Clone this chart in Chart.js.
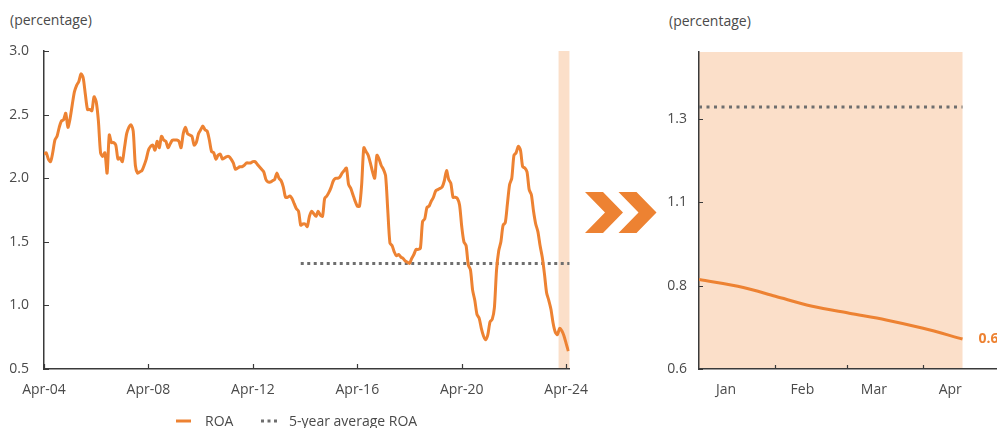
<!DOCTYPE html>
<html>
<head>
<meta charset="utf-8">
<script src="https://cdn.jsdelivr.net/npm/chart.js@4.4.1/dist/chart.umd.min.js"></script>
<style>
  html, body { margin: 0; padding: 0; background: #fff; }
  body { width: 997px; height: 428px; overflow: hidden; position: relative;
         font-family: "Open Sans", sans-serif; color: #4A4A4A; }
  .panel { position: absolute; top: 0; height: 428px; }
  #leftPanel { left: 0; width: 601px; }
  #rightPanel { left: 660px; width: 337px; }
  .unit { position: absolute; font-size: 14px; line-height: 16px; white-space: nowrap; }
  .legend { position: absolute; top: 411px; left: 0; height: 20px; font-size: 14px; line-height: 19px; }
  .legend .item { position: absolute; top: 0; white-space: nowrap; }
  .arrows { position: absolute; left: 580px; top: 186px; }
</style>
</head>
<body>

<div class="unit" style="left:10px; top:12px;">(percentage)</div>
<div class="unit" style="left:669px; top:13px;">(percentage)</div>

<div id="leftPanel" class="panel"><canvas id="roaHistory" width="601" height="428"></canvas></div>
<div id="rightPanel" class="panel"><canvas id="roaRecent" width="337" height="428"></canvas></div>

<svg class="arrows" width="82" height="52" viewBox="580 186 82 52">
  <polygon points="585,192 603,192 623,212.5 603,233 585,233 605,212.5" fill="#ED8232"/>
  <polygon points="618.5,192 636.5,192 656.5,212.5 636.5,233 618.5,233 638.5,212.5" fill="#ED8232"/>
</svg>

<div class="legend">
  <svg class="item" style="left:176px; top:8px;" width="16" height="4"><line x1="0" y1="2" x2="15" y2="2" stroke="#ED8232" stroke-width="3"/></svg>
  <span class="item" style="left:205px;">ROA</span>
  <svg class="item" style="left:261px; top:8px;" width="17" height="4"><line x1="0" y1="2" x2="16" y2="2" stroke="#6E6E6E" stroke-width="3" stroke-dasharray="3,3.5"/></svg>
  <span class="item" style="left:289px;">5-year average ROA</span>
</div>

<script>
// Monthly return on assets, Apr-04 (index 0) to May-24 (index 241), in percent
const roa = [
  2.19, 2.20, 2.15, 2.13, 2.20, 2.30, 2.33, 2.40, 2.45, 2.46, 2.51, 2.40,
  2.47, 2.58, 2.68, 2.73, 2.76, 2.82, 2.79, 2.66, 2.54, 2.54, 2.53, 2.64,
  2.60, 2.45, 2.20, 2.17, 2.20, 2.04, 2.34, 2.28, 2.28, 2.26, 2.15, 2.16,
  2.13, 2.24, 2.35, 2.40, 2.42, 2.37, 2.10, 2.04, 2.05, 2.06, 2.10, 2.15,
  2.22, 2.25, 2.26, 2.22, 2.29, 2.24, 2.33, 2.30, 2.29, 2.24, 2.27, 2.30,
  2.30, 2.30, 2.29, 2.24, 2.35, 2.40, 2.35, 2.34, 2.33, 2.26, 2.28, 2.35,
  2.38, 2.41, 2.38, 2.37, 2.30, 2.21, 2.20, 2.15, 2.18, 2.19, 2.15, 2.16,
  2.17, 2.17, 2.15, 2.12, 2.07, 2.08, 2.09, 2.09, 2.10, 2.12, 2.12, 2.12,
  2.13, 2.13, 2.11, 2.09, 2.07, 2.05, 1.99, 1.97, 1.97, 1.98, 1.99, 2.04,
  2.00, 1.98, 1.93, 1.85, 1.85, 1.86, 1.84, 1.80, 1.76, 1.74, 1.63, 1.64,
  1.64, 1.62, 1.70, 1.74, 1.72, 1.70, 1.74, 1.71, 1.70, 1.84, 1.86, 1.89,
  1.93, 1.98, 2.00, 2.00, 2.01, 2.04, 2.06, 2.08, 1.95, 1.92, 1.87, 1.82,
  1.78, 1.78, 1.95, 2.24, 2.21, 2.18, 2.12, 2.05, 2.00, 2.18, 2.15, 2.10,
  2.07, 2.02, 1.75, 1.49, 1.47, 1.42, 1.39, 1.40, 1.38, 1.37, 1.35, 1.34,
  1.33, 1.37, 1.40, 1.44, 1.44, 1.45, 1.66, 1.68, 1.77, 1.78, 1.82, 1.85,
  1.90, 1.91, 1.92, 1.93, 1.98, 2.06, 1.99, 1.96, 1.85, 1.85, 1.84, 1.79,
  1.62, 1.50, 1.47, 1.32, 1.28, 1.12, 1.04, 0.93, 0.90, 0.82, 0.76, 0.73,
  0.77, 0.87, 0.89, 0.98, 1.28, 1.43, 1.50, 1.63, 1.65, 1.80, 1.95, 2.00,
  2.18, 2.20, 2.25, 2.22, 2.09, 2.08, 2.05, 1.91, 1.87, 1.74, 1.64, 1.58,
  1.47, 1.38, 1.25, 1.10, 1.04, 0.97, 0.86, 0.79, 0.77, 0.82, 0.80, 0.76,
  0.70, 0.64
];

// 5-year average ROA, drawn over the last part of the history
const avgRoa = 1.33;
const avgFromMonth = 118;
const historyEndMonth = 241.6;

// Highlighted window of the history: Jan-24 onwards
const highlightFromMonth = 236.5;
const highlightToMonth = 241.5;

// History axis ticks
const historyXTickMonths = [0, 48, 96, 144, 192, 240];
const historyXTickLabels = ['Apr-04', 'Apr-08', 'Apr-12', 'Apr-16', 'Apr-20', 'Apr-24'];
const historyYTicks = [0.5, 1.0, 1.5, 2.0, 2.5, 3.0];

// 2024 detail: day of year and ROA
const recentDays = [0, 18, 31, 46, 61, 76, 91, 107];
const recentRoa = [0.868, 0.844, 0.818, 0.788, 0.767, 0.747, 0.722, 0.69];
const recentAvgRoa = 1.385;
const recentYearDays = 121;

// 2024 detail axis ticks
const recentMonthLabels = ['Jan', 'Feb', 'Mar', 'Apr'];
const recentMonthLabelDays = [11, 42, 71, 102];
const recentMonthStartDays = [31, 60, 91];
const recentYTicks = [0.6, 0.85, 1.1, 1.35];
const recentYTickLabels = ['0.6', '0.8', '1.1', '1.3'];

const ORANGE = '#ED8232';
const SHADE = '#FBDFC9';
const AVG_GREY = '#6E6E6E';
const AXIS = '#3A3A3A';
const TEXT = '#4A4A4A';

Chart.defaults.font.family = '"Open Sans", sans-serif';
Chart.defaults.font.size = 14;
Chart.defaults.color = TEXT;

// Shaded window behind the plot and short inward tick marks on both axes
const panelDecor = {
  id: 'panelDecor',
  beforeDraw(chart, args, opts) {
    if (opts.shadeFrom == null) return;
    const { ctx, chartArea: a, scales: { x } } = chart;
    const x0 = x.getPixelForValue(opts.shadeFrom);
    const x1 = x.getPixelForValue(opts.shadeTo);
    ctx.save();
    ctx.fillStyle = SHADE;
    ctx.fillRect(x0, a.top, x1 - x0, a.bottom - a.top);
    ctx.restore();
  },
  afterDraw(chart, args, opts) {
    const { ctx, chartArea: a, scales: { x, y } } = chart;
    ctx.save();
    ctx.strokeStyle = AXIS;
    ctx.lineWidth = 1.2;
    ctx.beginPath();
    (opts.xMarks || []).forEach(v => {
      const px = Math.round(x.getPixelForValue(v)) + 0.5;
      ctx.moveTo(px, a.bottom);
      ctx.lineTo(px, a.bottom - opts.len);
    });
    y.ticks.forEach(t => {
      const py = Math.round(y.getPixelForValue(t.value)) + 0.5;
      ctx.moveTo(a.left, py);
      ctx.lineTo(a.left + opts.len, py);
    });
    ctx.stroke();
    ctx.restore();
  }
};

// Value label at the end of the ROA line
const endLabel = {
  id: 'endLabel',
  afterDatasetsDraw(chart, args, opts) {
    if (!opts.text) return;
    const meta = chart.getDatasetMeta(0);
    const pt = meta.data[meta.data.length - 1];
    const ctx = chart.ctx;
    ctx.save();
    ctx.font = 'bold 14px "Open Sans", sans-serif';
    ctx.fillStyle = ORANGE;
    ctx.textAlign = 'left';
    ctx.textBaseline = 'middle';
    ctx.fillText(opts.text, pt.x + opts.dx, pt.y);
    ctx.restore();
  }
};

const axisBorder = { display: true, color: AXIS, width: 1.5 };
const noGrid = { display: true, drawOnChartArea: false, drawTicks: false };

new Chart(document.getElementById('roaHistory'), {
  type: 'line',
  data: {
    datasets: [
      {
        label: 'ROA',
        data: roa.map((v, i) => ({ x: i, y: v })),
        borderColor: ORANGE,
        borderWidth: 3,
        pointRadius: 0,
        tension: 0.25,
        fill: false
      },
      {
        label: '5-year average ROA',
        data: [{ x: avgFromMonth, y: avgRoa }, { x: historyEndMonth, y: avgRoa }],
        borderColor: AVG_GREY,
        borderWidth: 3,
        borderDash: [3, 3.5],
        borderCapStyle: 'butt',
        pointRadius: 0,
        fill: false
      }
    ]
  },
  options: {
    responsive: false,
    animation: false,
    events: [],
    layout: { padding: { top: 51, right: 0, left: 0, bottom: 0 } },
    scales: {
      x: {
        type: 'linear',
        min: 0,
        max: historyEndMonth,
        afterBuildTicks: s => { s.ticks = historyXTickMonths.map(v => ({ value: v })); },
        afterFit: s => { s.height = 59; },
        ticks: {
          autoSkip: false,
          maxRotation: 0,
          padding: 13,
          callback: (v, i) => historyXTickLabels[i]
        },
        grid: noGrid,
        border: axisBorder
      },
      y: {
        type: 'linear',
        min: 0.5,
        max: 3.0,
        afterBuildTicks: s => { s.ticks = historyYTicks.map(v => ({ value: v })); },
        afterFit: s => { s.width = 44; },
        ticks: { padding: 15, callback: v => v.toFixed(1) },
        grid: noGrid,
        border: axisBorder
      }
    },
    plugins: {
      legend: { display: false },
      tooltip: { enabled: false },
      panelDecor: { shadeFrom: highlightFromMonth, shadeTo: highlightToMonth, xMarks: historyXTickMonths, len: 5 },
      endLabel: { text: null }
    }
  },
  plugins: [panelDecor, endLabel]
});

new Chart(document.getElementById('roaRecent'), {
  type: 'line',
  data: {
    datasets: [
      {
        label: 'ROA',
        data: recentDays.map((d, i) => ({ x: d, y: recentRoa[i] })),
        borderColor: ORANGE,
        borderWidth: 3,
        pointRadius: 0,
        cubicInterpolationMode: 'monotone',
        fill: false
      },
      {
        label: '5-year average ROA',
        data: [{ x: 0, y: recentAvgRoa }, { x: recentDays[recentDays.length - 1], y: recentAvgRoa }],
        borderColor: AVG_GREY,
        borderWidth: 3,
        borderDash: [3, 4.5],
        borderCapStyle: 'butt',
        pointRadius: 0,
        fill: false
      }
    ]
  },
  options: {
    responsive: false,
    animation: false,
    events: [],
    layout: { padding: { top: 52, right: 0, left: 0, bottom: 0 } },
    scales: {
      x: {
        type: 'linear',
        min: 0,
        max: recentYearDays,
        afterBuildTicks: s => { s.ticks = recentMonthLabelDays.map(v => ({ value: v })); },
        afterFit: s => { s.height = 59; },
        ticks: {
          autoSkip: false,
          maxRotation: 0,
          padding: 13,
          callback: (v, i) => recentMonthLabels[i]
        },
        grid: noGrid,
        border: axisBorder
      },
      y: {
        type: 'linear',
        min: 0.6,
        max: 1.55,
        afterBuildTicks: s => { s.ticks = recentYTicks.map(v => ({ value: v })); },
        afterFit: s => { s.width = 39; },
        ticks: { padding: 12, callback: (v, i) => recentYTickLabels[i] },
        grid: noGrid,
        border: axisBorder
      }
    },
    plugins: {
      legend: { display: false },
      tooltip: { enabled: false },
      panelDecor: { shadeFrom: 0, shadeTo: recentDays[recentDays.length - 1], xMarks: recentMonthStartDays, len: 4 },
      endLabel: { text: recentRoa[recentRoa.length - 1].toFixed(2), dx: 16 }
    }
  },
  plugins: [panelDecor, endLabel]
});
</script>
</body>
</html>
